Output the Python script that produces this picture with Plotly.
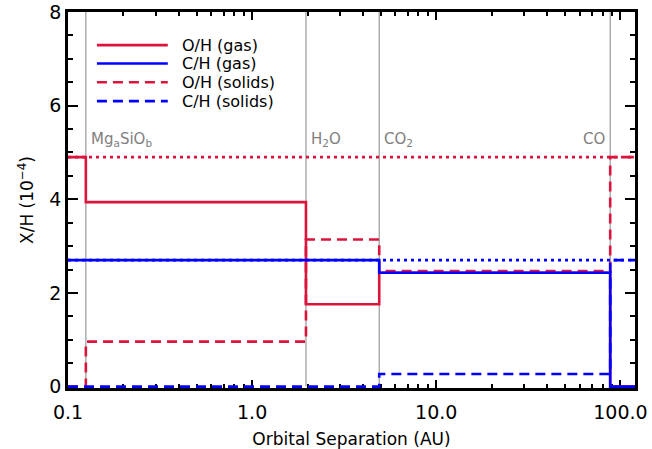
import numpy as np
import plotly.graph_objects as go

# ---- data ----
x_edges = [0.1, 0.125, 1.96, 4.9, 88.0, 120.0]          # AU, segment boundaries
oh_gas = [4.9, 3.94, 1.76, 2.43, 0.0]
ch_gas = [2.7, 2.7, 2.7, 2.43, 0.0]
oh_solids = [0.0, 0.96, 3.14, 2.47, 4.9]
ch_solids = [0.0, 0.0, 0.0, 0.27, 2.7]
oh_total = 4.9
ch_total = 2.7
snow_lines = [0.125, 1.96, 4.9, 88.0]
snow_labels = ["Mg<sub>a</sub>SiO<sub>b</sub>", "H<sub>2</sub>O", "CO<sub>2</sub>", "CO"]
x_tickvals = [0.1, 1.0, 10.0, 100.0]
x_ticktext = ["0.1", "1.0", "10.0", "100.0"]
y_tickvals = [0, 2, 4, 6, 8]

RED = "#DC143C"
BLUE = "#0000FF"
GRAY = "#999999"
FONT = "DejaVu Sans"
LW = 2.6
DASH = "10px,6px"
DOT = "3px,4px"

fig = go.Figure()

# snow lines (gray verticals)
for v in snow_lines:
    fig.add_trace(go.Scatter(x=[v, v], y=[0, 8], mode="lines",
                             line=dict(color=GRAY, width=1.2), showlegend=False, hoverinfo="skip"))

def step(vals):
    return vals + [vals[-1]]

fig.add_trace(go.Scatter(x=[x_edges[0], x_edges[-1]], y=[oh_total, oh_total], mode="lines",
                         line=dict(color=RED, width=LW, dash=DOT), showlegend=False))
fig.add_trace(go.Scatter(x=x_edges, y=step(oh_gas), mode="lines", line_shape="hv",
                         line=dict(color=RED, width=LW), name="O/H (gas)", showlegend=False))
fig.add_trace(go.Scatter(x=x_edges, y=step(oh_solids), mode="lines", line_shape="hv",
                         line=dict(color=RED, width=LW, dash=DASH), name="O/H (solids)", showlegend=False))
fig.add_trace(go.Scatter(x=x_edges, y=step(ch_gas), mode="lines", line_shape="hv",
                         line=dict(color=BLUE, width=LW), name="C/H (gas)", showlegend=False))
fig.add_trace(go.Scatter(x=x_edges, y=step(ch_solids), mode="lines", line_shape="hv",
                         line=dict(color=BLUE, width=LW, dash=DASH), name="C/H (solids)", showlegend=False))
fig.add_trace(go.Scatter(x=[x_edges[0], x_edges[-1]], y=[ch_total, ch_total], mode="lines",
                         line=dict(color=BLUE, width=LW, dash=DOT), showlegend=False))

# snow line labels
for i, (v, lab) in enumerate(zip(snow_lines, snow_labels)):
    last = i == len(snow_lines) - 1
    fig.add_annotation(x=np.log10(v), y=5.28, text=lab, showarrow=False,
                       xanchor="right" if last else "left", yanchor="middle",
                       xshift=-3 if last else 3,
                       font=dict(family=FONT, size=15, color="#808080"))

# manual legend
leg_items = [("O/H (gas)", RED, "solid"), ("C/H (gas)", BLUE, "solid"),
             ("O/H (solids)", RED, DASH), ("C/H (solids)", BLUE, DASH)]
leg_y = [0.912, 0.863, 0.813, 0.763]
for (lab, col, dash), yy in zip(leg_items, leg_y):
    fig.add_shape(type="line", xref="paper", yref="paper", x0=0.051, x1=0.176, y0=yy, y1=yy,
                  line=dict(color=col, width=LW, dash=dash))
    fig.add_annotation(xref="paper", yref="paper", x=0.197, y=yy, text=lab, showarrow=False,
                       xanchor="left", yanchor="middle", font=dict(family=FONT, size=16, color="black"))

axis_common = dict(showline=True, linecolor="black", linewidth=2.5, mirror="ticks",
                   ticks="inside", tickcolor="black", tickwidth=2, showgrid=False, zeroline=False,
                   layer="below traces", automargin=False, ticklabeloverflow="allow",
                   tickfont=dict(family=FONT, size=19, color="black"))

fig.update_xaxes(type="log", range=[np.log10(0.1), np.log10(120.0)],
                 tickvals=x_tickvals, ticktext=x_ticktext, ticklen=8,
                 minor=dict(tickvals=[m * d for d in (0.1, 1, 10) for m in range(2, 10)],
                            ticks="inside", ticklen=4, tickcolor="black", tickwidth=2),
                 title=dict(text="Orbital Separation (AU)", font=dict(family=FONT, size=17, color="black"),
                            standoff=13),
                 ticklabelstandoff=5,
                 **axis_common)
fig.update_yaxes(range=[-0.03, 8], tickvals=y_tickvals, ticklen=10,
                 minor=dict(dtick=0.5, ticks="inside", ticklen=5, tickcolor="black", tickwidth=2),
                 title=dict(text="X/H (10<sup>−4</sup>)", font=dict(family=FONT, size=17, color="black"),
                            standoff=12),
                 **axis_common)

fig.update_layout(width=652, height=449, margin=dict(l=68, r=17, t=12, b=61),
                  plot_bgcolor="white", paper_bgcolor="white", showlegend=False)

# remove the default page margin so the 652x449 figure fills the window exactly
fig.write_html("out.html", config={"displayModeBar": False},
               post_script="document.body.style.margin='0';document.body.style.overflow='hidden';")
